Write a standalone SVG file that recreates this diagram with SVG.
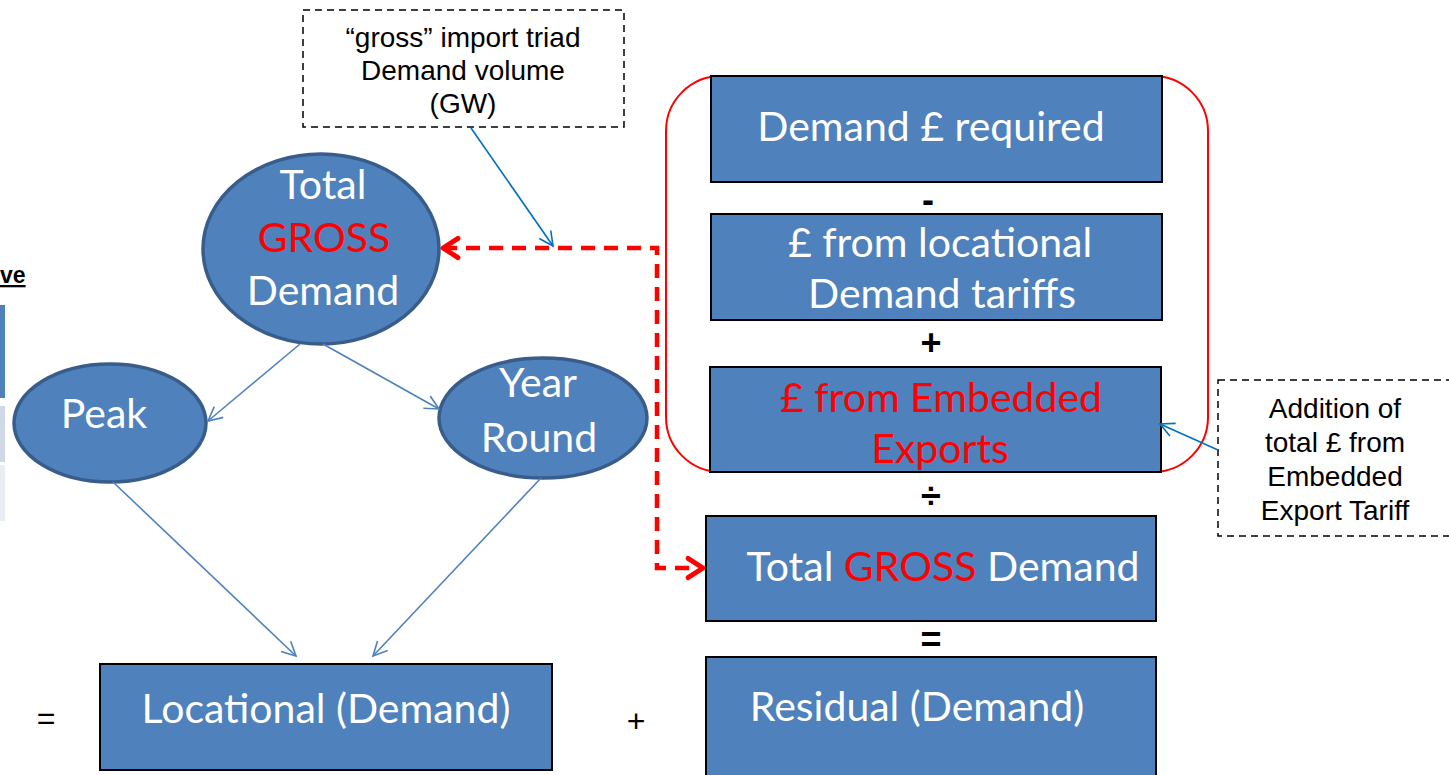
<svg xmlns="http://www.w3.org/2000/svg" width="1449" height="775" viewBox="0 0 1449 775">
<style>
.box{fill:#4F81BD;stroke:#000;stroke-width:2}
.ell{fill:#4F81BD;stroke:#385D8A;stroke-width:3.5}
.t{font-family:Lato,"Open Sans",sans-serif;font-size:41px;fill:#fff;text-anchor:middle}
.red{fill:#FF0000}
.op{font-family:"Liberation Sans",Arial,sans-serif;font-size:36px;fill:#000;text-anchor:middle;font-weight:bold}
.op2{font-family:"Liberation Sans",Arial,sans-serif;font-size:32px;fill:#000;text-anchor:middle}
.note{font-family:"Liberation Sans",Arial,sans-serif;font-size:28px;fill:#000;text-anchor:middle}
.dash{fill:#fff;stroke:#000;stroke-width:1.5;stroke-dasharray:7 5}
.conn{fill:none;stroke:#4F81BD;stroke-width:1.6}
.call{fill:none;stroke:#0070C0;stroke-width:1.6}
</style>
<defs>
<marker id="ab" markerUnits="userSpaceOnUse" markerWidth="24" markerHeight="24" viewBox="-20 -10 24 20" refX="0" refY="0" orient="auto">
<path d="M-14,-7 L0,0 L-14,7" fill="none" stroke="#4F81BD" stroke-width="1.6"/>
</marker>
<marker id="ac" markerUnits="userSpaceOnUse" markerWidth="24" markerHeight="24" viewBox="-20 -10 24 20" refX="0" refY="0" orient="auto">
<path d="M-14,-7 L0,0 L-14,7" fill="none" stroke="#0070C0" stroke-width="1.6"/>
</marker>
<marker id="ar" markerUnits="userSpaceOnUse" markerWidth="30" markerHeight="30" viewBox="-22 -14 26 28" refX="0" refY="0" orient="auto-start-reverse">
<path d="M-14,-9 L0,0 L-14,9" fill="none" stroke="#FF0000" stroke-width="4.5" stroke-linecap="round" stroke-linejoin="round"/>
</marker>
</defs>

<g id="left-fragment">
<text x="0" y="283" font-family="Liberation Sans,Arial,sans-serif" font-size="23" font-weight="bold" text-decoration="underline" fill="#000">ve</text>
<rect x="-2" y="305" width="7" height="93" fill="#4F81BD"/>
<rect x="-2" y="406" width="7" height="56" fill="#D0D8E8"/>
<rect x="-2" y="465" width="7" height="56" fill="#E9EDF4"/>
</g>

<g id="red-group">
<rect x="666" y="76" width="542" height="396" rx="55" ry="55" fill="none" stroke="#FF0000" stroke-width="2"/>
</g>

<g id="n-total-gross">
<ellipse class="ell" cx="321" cy="249" rx="118" ry="95"/>
<text class="t" x="323" y="199">Total</text>
<text class="t red" x="324" y="252">GROSS</text>
<text class="t" x="323" y="305">Demand</text>
</g>

<g id="n-peak">
<ellipse class="ell" cx="110" cy="423" rx="96" ry="59"/>
<text class="t" x="104" y="428">Peak</text>
</g>

<g id="n-year-round">
<ellipse class="ell" cx="543" cy="418" rx="104" ry="60"/>
<text class="t" x="538" y="397">Year</text>
<text class="t" x="539" y="452">Round</text>
</g>

<g id="n-locational">
<rect class="box" x="100" y="664" width="452" height="106"/>
<text class="t" x="326" y="723">Locational (Demand)</text>
</g>

<g id="n-demand-required">
<rect class="box" x="711" y="76" width="451" height="106"/>
<text class="t" x="931" y="141">Demand £ required</text>
</g>

<g id="n-locational-tariffs">
<rect class="box" x="711" y="214" width="451" height="106"/>
<text class="t" x="940" y="257">£ from locational</text>
<text class="t" x="942" y="308">Demand tariffs</text>
</g>

<g id="n-embedded">
<rect class="box" x="710" y="367" width="451" height="105"/>
<text class="t red" x="941" y="412">£ from Embedded</text>
<text class="t red" x="940" y="463">Exports</text>
</g>

<g id="n-total-gross-box">
<rect class="box" x="706" y="516" width="450" height="105"/>
<text class="t" x="943" y="581">Total <tspan class="red">GROSS</tspan> Demand</text>
</g>

<g id="n-residual">
<rect class="box" x="706" y="657" width="450" height="122"/>
<text class="t" x="917" y="721">Residual (Demand)</text>
</g>

<g id="operators">
<text class="op" x="928" y="212">-</text>
<text class="op" x="931" y="355">+</text>
<text class="op" x="931" y="508">÷</text>
<text class="op" x="931" y="652">=</text>
<text class="op2" x="46" y="729">=</text>
<text class="op2" x="636" y="732">+</text>
</g>

<g id="n-note-gross">
<rect class="dash" x="303" y="10" width="321" height="117"/>
<text class="note" x="463" y="47">“gross” import triad</text>
<text class="note" x="463" y="80">Demand volume</text>
<text class="note" x="463" y="113">(GW)</text>
</g>

<g id="n-note-embedded">
<rect class="dash" x="1218" y="380" width="236" height="156"/>
<text class="note" x="1335" y="418">Addition of</text>
<text class="note" x="1335" y="452">total £ from</text>
<text class="note" x="1335" y="486">Embedded</text>
<text class="note" x="1335" y="520">Export Tariff</text>
</g>

<g id="connectors">
<line class="conn" x1="300" y1="344" x2="208" y2="421" marker-end="url(#ab)"/>
<line class="conn" x1="323" y1="344" x2="439" y2="409" marker-end="url(#ab)"/>
<line class="conn" x1="113" y1="482" x2="296" y2="656" marker-end="url(#ab)"/>
<line class="conn" x1="541" y1="478" x2="373" y2="656" marker-end="url(#ab)"/>
<line class="call" x1="471" y1="128" x2="553" y2="246" marker-end="url(#ac)"/>
<line class="call" x1="1218" y1="450" x2="1160" y2="424" marker-end="url(#ac)"/>
<path d="M443,248 L657,248 L657,568 L703,568" fill="none" stroke="#FF0000" stroke-width="4.5" stroke-dasharray="14 9" marker-start="url(#ar)" marker-end="url(#ar)"/>
</g>
</svg>
